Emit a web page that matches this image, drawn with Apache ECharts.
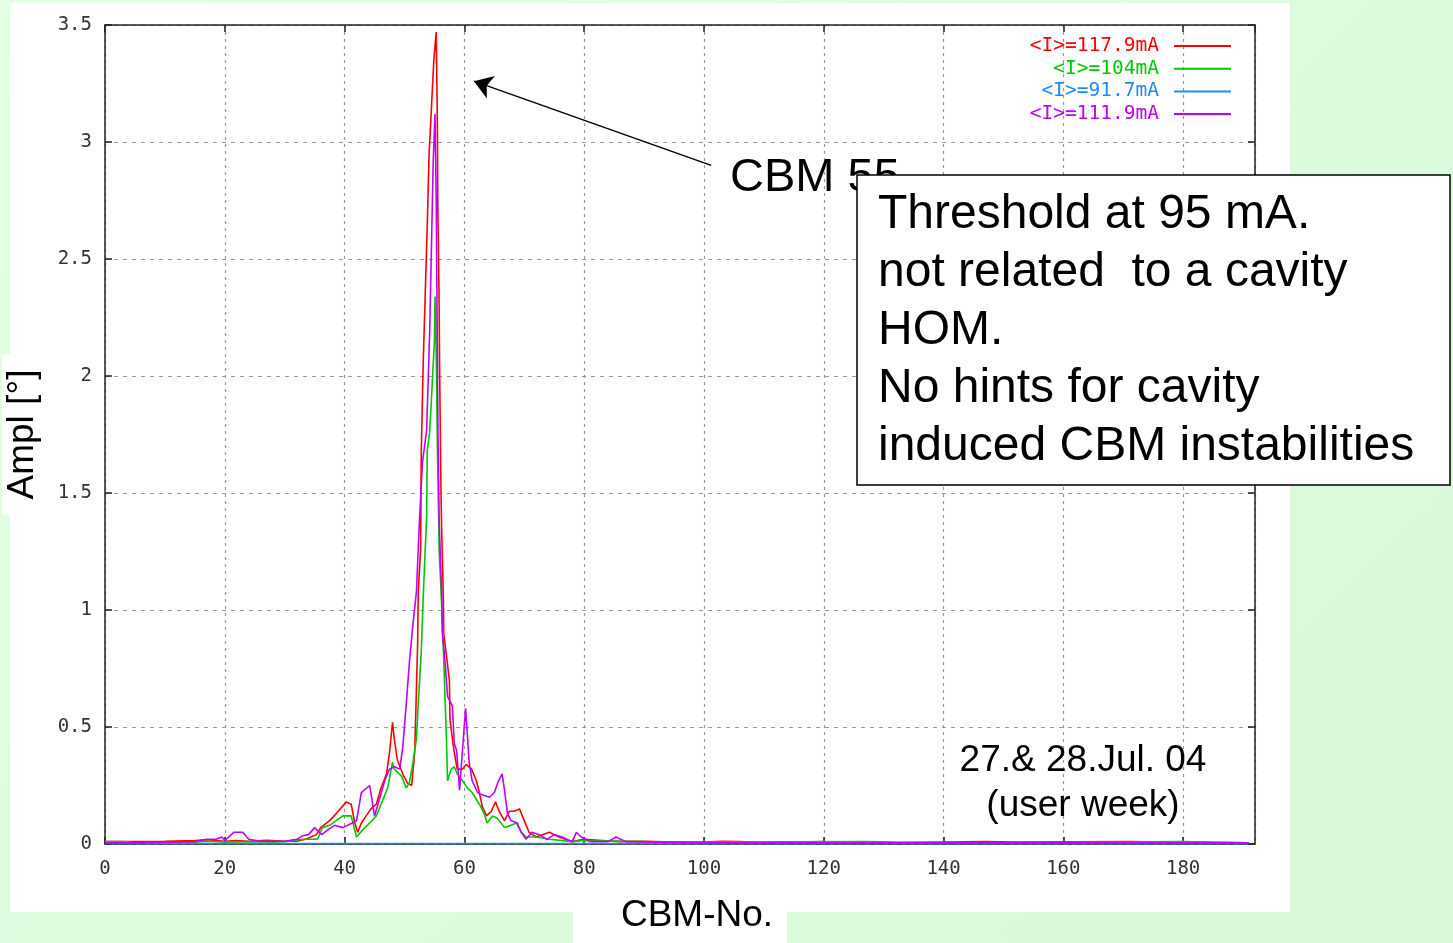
<!DOCTYPE html>
<html>
<head>
<meta charset="utf-8">
<script src="https://cdn.jsdelivr.net/npm/echarts@6/dist/echarts.min.js"></script>
<style>
  html, body { margin: 0; padding: 0; }
  body { width: 1453px; height: 943px; overflow: hidden; position: relative;
         background: linear-gradient(135deg, #e4fee4 0%, #d8f8d8 100%); }
  #panel { position: absolute; left: 10px; top: 3px; width: 1280px; height: 909px; background: #fff; }
  #main { position: absolute; left: 0; top: 0; width: 1453px; height: 943px; }
</style>
</head>
<body>
<div id="panel"></div>
<div id="main"></div>
<script>
// legend names / colours
var names = ['<I>=117.9mA', '<I>=104mA', '<I>=91.7mA', '<I>=111.9mA'];
var colors = ['#ff0000', '#00c800', '#1a8cff', '#c000ff'];

// CBM number (x) and amplitude (y) for each run
var redX = [0, 5, 10, 15, 17, 20, 22, 24, 27, 30, 32, 33.5, 35.3, 36, 37.5, 38.6, 40.3, 41.1, 41.7, 42.2, 42.8, 43.6, 44.4, 45.3, 46.1, 47, 47.5, 48, 48.3, 48.8, 49.7, 50.5, 51.2, 51.7, 51.9, 52.2, 52.3, 52.7, 52.8, 53.1, 53.45, 53.8, 54.1, 54.45, 54.9, 55.3, 55.5, 55.55, 55.8, 55.85, 56.1, 56.2, 56.5, 56.55, 57.5, 57.6, 58.2, 58.8, 59.7, 60.3, 61.2, 62, 62.5, 63, 63.7, 64.5, 65.2, 65.8, 66.7, 67.5, 68.3, 69.2, 70, 70.8, 72, 74.2, 75.8, 78, 80, 83, 86, 90, 95, 100, 103, 106, 110, 120, 121, 130, 147, 152, 171, 177, 191];
var redY = [0.01, 0.01, 0.012, 0.015, 0.018, 0.012, 0.015, 0.012, 0.016, 0.012, 0.012, 0.02, 0.04, 0.07, 0.1, 0.13, 0.18, 0.17, 0.09, 0.05, 0.09, 0.12, 0.15, 0.17, 0.24, 0.3, 0.39, 0.52, 0.45, 0.36, 0.3, 0.26, 0.25, 0.39, 0.57, 0.86, 1.08, 1.26, 1.67, 2.03, 2.34, 2.64, 2.94, 3.12, 3.35, 3.47, 3.06, 2.76, 2.28, 2.07, 1.5, 1.35, 1.04, 0.9, 0.7, 0.53, 0.41, 0.32, 0.32, 0.34, 0.32, 0.27, 0.22, 0.16, 0.12, 0.14, 0.18, 0.14, 0.1, 0.14, 0.14, 0.15, 0.1, 0.05, 0.03, 0.05, 0.03, 0.01, 0.02, 0.015, 0.01, 0.012, 0.008, 0.008, 0.012, 0.01, 0.005, 0.01, 0.005, 0.005, 0.01, 0.008, 0.01, 0.008, 0.005];

var greenX = [0, 3, 5, 10, 15, 17, 20, 25, 28, 30, 33, 35.5, 36.3, 37.5, 38.6, 39.7, 41.1, 42, 43, 44.2, 45.3, 46.1, 47.2, 48, 48.3, 49.5, 50.3, 50.8, 51.3, 52, 52.3, 52.8, 53.2, 53.7, 53.8, 54.2, 54.5, 55, 55.1, 55.2, 55.5, 55.8, 56.3, 56.7, 57, 57.2, 57.8, 58.3, 58.8, 59.7, 60.5, 61.3, 62.5, 63.3, 63.8, 64.7, 65.5, 66.7, 67.8, 68.7, 69.5, 70.3, 72, 74.2, 78, 80, 90, 100, 127, 132, 150, 180, 191];
var greenY = [0.01, 0.01, 0.005, 0.005, 0.008, 0.012, 0.008, 0.01, 0.008, 0.01, 0.02, 0.02, 0.07, 0.08, 0.1, 0.12, 0.12, 0.03, 0.06, 0.09, 0.12, 0.17, 0.24, 0.35, 0.32, 0.29, 0.24, 0.26, 0.33, 0.45, 0.6, 0.82, 1.1, 1.4, 1.68, 1.76, 1.9, 2.15, 2.34, 2.3, 1.7, 1.25, 0.97, 0.68, 0.45, 0.27, 0.32, 0.33, 0.3, 0.27, 0.24, 0.22, 0.17, 0.13, 0.09, 0.12, 0.11, 0.07, 0.08, 0.09, 0.05, 0.03, 0.03, 0.02, 0.01, 0.015, 0.01, 0.008, 0.01, 0.008, 0.005, 0.01, 0.005];

var blueX = [0, 60, 120, 191];
var blueY = [0.002, 0.002, 0.002, 0.002];

var magentaX = [0, 5, 10, 15, 17, 18.5, 19.5, 20, 21.5, 23, 24, 26, 30, 32, 33, 34, 35, 36.2, 37.2, 38.3, 39.7, 41.3, 42, 42.8, 44.2, 45, 45.8, 46.7, 47.5, 48.3, 49.2, 49.7, 50.3, 50.8, 51.3, 52, 52.5, 53, 53.7, 54.2, 54.5, 54.8, 55.1, 55.3, 55.5, 55.6, 55.8, 56.2, 56.3, 56.8, 57.2, 58, 58.3, 58.7, 59.2, 60.2, 60.8, 61.3, 62.2, 63, 64.2, 65, 65.7, 66.3, 66.7, 67.2, 67.8, 68.8, 69.5, 70.3, 71.3, 72.5, 73.8, 75, 76.3, 78, 78.7, 79.5, 81, 84, 85.3, 87, 92, 100, 120, 191];
var magentaY = [0.005, 0.005, 0.008, 0.01, 0.02, 0.02, 0.03, 0.015, 0.05, 0.05, 0.02, 0.012, 0.012, 0.02, 0.035, 0.04, 0.07, 0.04, 0.06, 0.08, 0.07, 0.09, 0.1, 0.22, 0.25, 0.12, 0.19, 0.27, 0.32, 0.33, 0.32, 0.41, 0.6, 0.77, 0.91, 1.08, 1.38, 1.63, 1.77, 2.18, 2.55, 2.92, 3.12, 2.76, 2.07, 1.73, 1.37, 1.08, 0.91, 0.77, 0.63, 0.59, 0.43, 0.4, 0.23, 0.58, 0.35, 0.27, 0.22, 0.21, 0.2, 0.22, 0.27, 0.3, 0.23, 0.13, 0.1, 0.09, 0.05, 0.02, 0.05, 0.04, 0.02, 0.04, 0.03, 0.01, 0.05, 0.03, 0.01, 0.01, 0.03, 0.01, 0.008, 0.005, 0.005, 0.005];

// axes
var xMin = 0, xMax = 192, xStep = 20;
var yMin = 0, yMax = 3.5, yStep = 0.5;

// annotation texts
var peakLabel = 'CBM 55';
var noteLines = ['Threshold at 95 mA.', 'not related  to a cavity', 'HOM.', 'No hints for cavity', 'induced CBM instabilities'];
var dateLines = ['27.& 28.Jul. 04', '(user week)'];

function pairs(xs, ys) {
	var out = [];
	for (var i = 0; i < xs.length; i++) out.push([xs[i], ys[i]]);
	return out;
}

var chart = echarts.init(document.getElementById('main'), null, { renderer: 'canvas' });

var monoFont = 'DejaVu Sans Mono';
var sansFont = '"Liberation Sans", Arial, sans-serif';

function valueAxis(opt) {
	return Object.assign({
		type: 'value',
		axisLine: { show: true, onZero: false, lineStyle: { color: '#222', width: 1.5 } },
		axisTick: { show: true, inside: true, length: 7, lineStyle: { color: '#222', width: 1.5 } },
		splitLine: { show: false },
		axisLabel: { show: false }
	}, opt);
}

var allData = [pairs(redX, redY), pairs(greenX, greenY), pairs(blueX, blueY), pairs(magentaX, magentaY)];

var series = allData.map(function (d, i) {
	return {
		name: names[i],
		type: 'line',
		data: d,
		symbol: 'none',
		lineStyle: { color: colors[i], width: 1.6 },
		itemStyle: { color: colors[i] },
		z: 3 + i
	};
});

// arrow pointing at the CBM 55 peak
series[0].markLine = {
	silent: true,
	symbol: ['none', 'arrow'],
	symbolSize: 18,
	label: { show: false },
	lineStyle: { color: '#000', width: 1.5, type: 'solid' },
	data: [[{ coord: [101.2, 2.9] }, { coord: [61.6, 3.26] }]]
};

var option = {
	animation: false,
	backgroundColor: 'transparent',
	grid: { left: 105, right: 198, top: 25, bottom: 99, containLabel: false, outerBoundsMode: 'none' },
	legend: {
		orient: 'vertical',
		right: 221,
		top: 36,
		padding: 0,
		align: 'right',
		itemWidth: 57,
		itemHeight: 14,
		itemGap: 2.7,
		itemStyle: { opacity: 0 },
		data: names.map(function (n, i) {
			return { name: n, textStyle: { color: colors[i] } };
		}),
		textStyle: { fontFamily: monoFont, fontSize: 19.5, lineHeight: 18, padding: [0, 10, 0, 0] }
	},
	xAxis: [
		valueAxis({
			position: 'bottom', min: xMin, max: xMax, interval: xStep,
			name: 'CBM-No.', nameLocation: 'middle', nameGap: 47,
			nameTextStyle: { fontFamily: sansFont, fontSize: 37, color: '#000',
				backgroundColor: '#fff', padding: [6, 14, 12, 48] },
			axisLabel: { show: true, showMaxLabel: false, margin: 16, color: '#333',
				fontFamily: monoFont, fontSize: 19 },
			splitLine: { show: true, lineStyle: { color: '#9a9a9a', width: 1.2, type: [3, 4] } }
		}),
		valueAxis({ position: 'top', min: xMin, max: xMax, interval: xStep })
	],
	yAxis: [
		valueAxis({
			position: 'left', min: yMin, max: yMax, interval: yStep,
			name: 'Ampl [°]', nameLocation: 'middle', nameGap: 62,
			nameTextStyle: { fontFamily: sansFont, fontSize: 37, color: '#000',
				backgroundColor: '#fff', padding: [2, 15, 2, 15] },
			axisLabel: { show: true, margin: 13, color: '#333', fontFamily: monoFont, fontSize: 19 },
			splitLine: { show: true, lineStyle: { color: '#9a9a9a', width: 1.2, type: [4, 5] } }
		}),
		valueAxis({ position: 'right', min: yMin, max: yMax, interval: yStep })
	],
	series: series,
	graphic: [
		{
			type: 'text', x: 730, y: 178, z: 50,
			style: { text: peakLabel, font: '47px ' + sansFont, fill: '#000',
				textAlign: 'left', textVerticalAlign: 'middle' }
		},
		{
			type: 'rect', z: 60,
			shape: { x: 857, y: 175, width: 593, height: 310 },
			style: { fill: '#fff', stroke: '#000', lineWidth: 1.5 }
		},
		{
			type: 'text', x: 878, y: 186, z: 61,
			style: { text: noteLines.join('\n'), font: '48px ' + sansFont, lineHeight: 58,
				fill: '#000', textAlign: 'left', textVerticalAlign: 'top' }
		},
		{
			type: 'text', x: 1083, y: 738, z: 61,
			style: { text: dateLines.join('\n'), font: '37px ' + sansFont, lineHeight: 45,
				fill: '#000', textAlign: 'center', textVerticalAlign: 'top' }
		}
	]
};

chart.setOption(option);
</script>
</body>
</html>
